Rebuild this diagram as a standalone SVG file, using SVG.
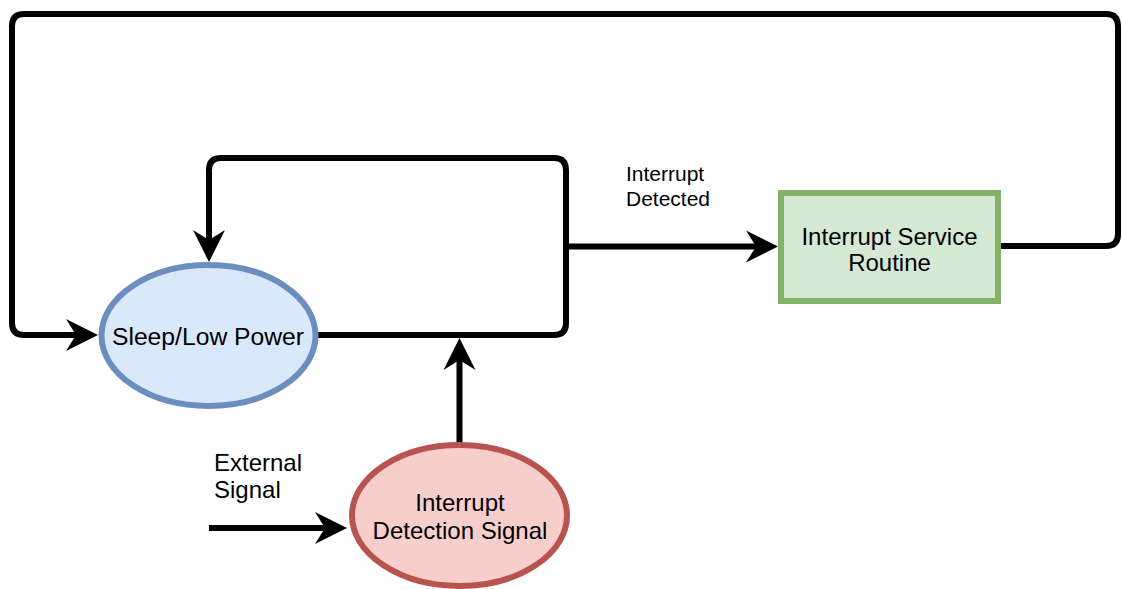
<svg xmlns="http://www.w3.org/2000/svg" width="1122" height="589" viewBox="0 0 1122 589">
  <style>
    .conn { fill: none; stroke: #000; stroke-width: 6; stroke-linejoin: round; marker-end: url(#arrow); }
    .lbl { font-family: "Liberation Sans", Arial, Helvetica, sans-serif; fill: #000; }
    .big { font-size: 24px; }
    .small { font-size: 21px; }
    .mid { text-anchor: middle; }
  </style>
  <defs>
    <marker id="arrow" markerUnits="userSpaceOnUse" markerWidth="40" markerHeight="40" refX="10" refY="20" orient="auto" overflow="visible">
      <path d="M32,20 L0,4 L10,20 L0,36 Z" fill="#000"/>
    </marker>
  </defs>
  <rect width="1122" height="589" fill="#fff"/>

  <g id="connectors">
    <path class="conn" d="M1001,246 H1106 Q1118,246 1118,234 V26 Q1118,14 1106,14 H24 Q12,14 12,26 V323 Q12,335 24,335 H76"/>
    <path class="conn" d="M318,335 H554 Q566,335 566,323 V170 Q566,158 554,158 H221 Q209,158 209,170 V240"/>
    <path class="conn" d="M566,246.5 H756"/>
    <path class="conn" d="M459.5,443 V360"/>
    <path class="conn" d="M209,528 H325"/>
    <text class="lbl small" x="626" y="181">Interrupt</text>
    <text class="lbl small" x="626" y="205.5">Detected</text>
    <text class="lbl big" x="214" y="471">External</text>
    <text class="lbl big" x="214" y="498">Signal</text>
  </g>

  <g id="sleep">
    <ellipse cx="208.5" cy="335.5" rx="107" ry="70.5" fill="#dae8fc" stroke="#6c8ebf" stroke-width="6"/>
    <text class="lbl mid" style="font-size:24.7px" x="208" y="345">Sleep/Low Power</text>
  </g>

  <g id="detection">
    <ellipse cx="459.5" cy="515.5" rx="107.5" ry="70.5" fill="#f8cecc" stroke="#b85450" stroke-width="6"/>
    <text class="lbl big mid" x="460" y="511">Interrupt</text>
    <text class="lbl big mid" x="460" y="539">Detection Signal</text>
  </g>

  <g id="isr">
    <rect x="781" y="193" width="217" height="108" fill="#d5e8d4" stroke="#82b366" stroke-width="6"/>
    <text class="lbl big mid" x="889.5" y="245">Interrupt Service</text>
    <text class="lbl big mid" x="889.5" y="271">Routine</text>
  </g>
</svg>
